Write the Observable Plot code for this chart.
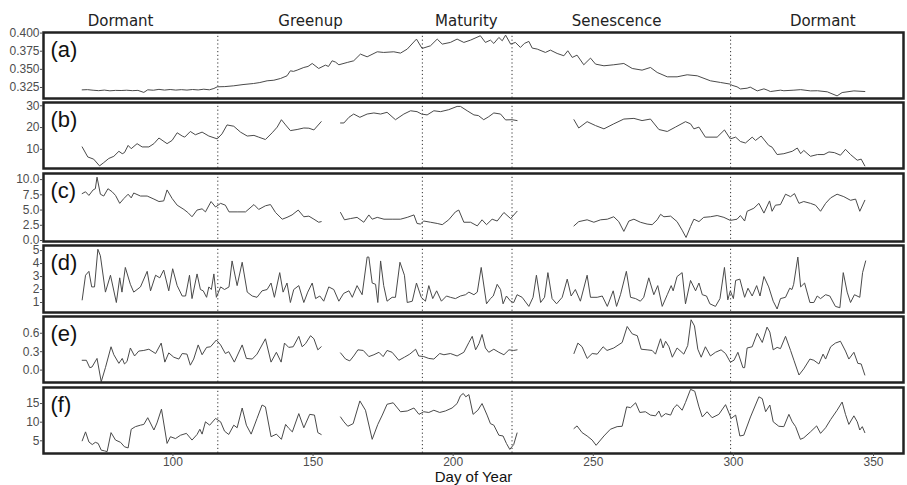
<!DOCTYPE html>
<html><head><meta charset="utf-8">
<script src="https://cdn.jsdelivr.net/npm/d3@7"></script>
<script src="https://cdn.jsdelivr.net/npm/@observablehq/plot@0.6"></script>
<style>
html,body{margin:0;padding:0;background:#fff;}
#chart{position:relative;width:907px;height:485px;overflow:hidden;background:#fff;}
#chart svg{position:absolute;left:0;}
</style></head><body><div id="chart"></div>
<script>
// ---- phases & ticks ----
const phaseLabels = ["Dormant", "Greenup", "Maturity", "Senescence", "Dormant"];
const phaseCenters = [81.3, 149.1, 204.7, 258.3, 331.9];
const phaseBreaks = [116, 189, 221, 299];
const panelLabels = ["(a)", "(b)", "(c)", "(d)", "(e)", "(f)"];
const xTicks = [100, 150, 200, 250, 300, 350];
const xLabel = "Day of Year";

// ---- panel (a) ----
const aDay = [67.6,69.5,71.5,73.5,75.5,77.5,79.5,81.5,83.5,85.5,87.5,89.6,91,93,95,97,99,101,103,105,107,109,111,113,114.6,115.8,118.5,121.7,125,128.8,131,133.6,136,138.4,140.7,141.9,143,144.3,146.7,148.2,149.7,152,154.4,155.5,156.8,158,159.2,162.2,164.5,166.9,169.3,172.9,175.2,178.8,181.2,183.6,186.9,188.9,191.9,194.3,196.1,199,201.4,203.8,206.2,209.7,211.5,213.3,214.5,216.3,217.5,218.7,220.5,222.2,224,225.4,227,228.2,230,232.9,234.7,237.1,239.5,240.9,242.5,244.2,246.6,249,250.8,253.8,257.3,260.9,263.9,267.4,270.4,272.8,276.4,279.9,283.5,287.1,291.8,295.4,298.9,299.5,301.3,302.5,304.9,306,308.5,310.9,312,313.2,316.8,318,321.6,324,327.5,330,333.5,337,338.8,343,346.9];
const aVal = [0.3217,0.3220,0.3212,0.3206,0.3214,0.3204,0.3210,0.3208,0.3212,0.3206,0.3210,0.3182,0.3218,0.3212,0.3224,0.3214,0.3222,0.3214,0.3220,0.3214,0.3222,0.3216,0.3226,0.3218,0.3236,0.3259,0.3262,0.3273,0.3290,0.3305,0.3318,0.3342,0.3350,0.3374,0.3411,0.3480,0.3472,0.3489,0.3526,0.3540,0.3581,0.3512,0.3558,0.3540,0.3618,0.3600,0.3563,0.3595,0.3618,0.3710,0.3673,0.3742,0.3733,0.3742,0.3724,0.3779,0.3917,0.3788,0.3825,0.3917,0.3848,0.3871,0.3917,0.3871,0.3903,0.3963,0.3871,0.3903,0.3857,0.3940,0.3894,0.3972,0.3848,0.3871,0.3802,0.3857,0.3885,0.3793,0.3779,0.3733,0.3765,0.3719,0.3687,0.3756,0.3664,0.3696,0.3563,0.3655,0.3572,0.3549,0.3563,0.3581,0.3512,0.3489,0.3526,0.3457,0.3397,0.3397,0.3425,0.3411,0.3342,0.3319,0.3296,0.3280,0.3259,0.3230,0.3240,0.3255,0.3203,0.3231,0.3215,0.3194,0.3213,0.3205,0.3213,0.3220,0.3203,0.3205,0.3190,0.3134,0.3180,0.3203,0.3194];

// ---- panel (b) ----
const bDay = [67.6,69.6,71.7,73.8,75.3,77.1,78.9,80.7,81.9,82.7,84,85.1,87.2,89,91.4,93.2,95,97.9,99.7,101.5,103.3,104.2,106.2,108,110.4,112.8,115.8,117.5,119.3,121.7,124.1,126.5,128.9,130.6,133,135.4,137.2,138.7,140.2,141.9,144.3,146.7,148.5,150.3,152.9,156,159.8,161,162.8,164.5,166.7,169.3,171.7,174.1,176.4,179.4,182.4,184.8,187.1,188.7,190.7,193.1,195.5,198.4,201.4,202.6,205,207.4,209,210.9,212.7,214.5,216.9,218.7,221,222.8,232,243.1,244.8,247.8,250.8,253.8,257.3,260.9,264.5,267.4,270.4,273.4,276.4,279.3,282.9,284.7,285.9,287.7,290,294.2,296.8,298.9,300.8,302.5,304.3,306.7,307.9,309.9,312.6,313.8,315.6,318,321,322.8,324,325.1,327.5,330,332.3,334.1,336,338.2,340,341.8,344.2,345.6,346.9];
const bVal = [11.1,6.5,5.5,2.4,3.9,5.8,6.8,9.1,8.0,8.5,11.8,10.3,12.6,11.1,11.1,12.6,15.2,12.6,14.1,17.6,16.1,15.6,18.2,16.7,17.9,16.1,14.8,17.1,21.2,20.6,17.9,16.1,16.4,15.6,14.5,17.6,20.2,23.6,21.2,18.6,19.1,19.8,19.7,18.9,22.7,null,22.1,22.1,24.7,26.2,24.7,26.2,26.7,26.2,27.0,23.6,26.2,27.7,27.3,26.2,25.8,27.7,27.3,28.2,29.7,29.7,27.7,25.8,25.5,23.6,25.0,26.7,26.2,23.5,23.6,23.2,null,23.6,19.8,22.7,20.9,19.4,21.7,23.9,24.2,23.2,23.9,19.1,18.2,20.2,22.7,21.7,19.4,20.2,15.6,15.6,18.9,14.8,15.6,13.6,12.9,15.6,14.1,16.1,11.8,11.0,7.6,8.0,9.1,10.6,8.0,9.5,6.8,7.6,7.6,8.8,8.5,7.3,10.0,7.6,5.0,5.5,2.4];

// ---- panel (c) ----
const cDay = [67.6,68.8,70,71.5,72.3,72.9,74.1,75.3,76.8,78.3,79.5,81,82.5,84,85.1,86,88.4,90.8,93.2,95,96.7,97.9,99.7,101.5,103.9,105.3,106.8,108.6,110.4,111.6,113.6,115.2,117,118.7,120,122.9,125.9,128.9,130.6,133,134.8,136.6,139,140.7,142.5,144.7,146.7,148.5,150.3,152,152.9,156,159.8,161.2,163.3,165.7,168.1,169.9,171.1,172.9,175.3,178.2,181.2,183.6,186,187.1,188.3,189.5,191.9,194.3,196.1,198.4,200.8,202,203.8,206.2,208.6,210.3,211.9,213.9,215.7,218.1,220.5,222.8,232,243.1,244.8,247.8,250.2,252.6,255,257.3,259.1,260.9,262.7,264.5,266.8,269.2,271,272.8,274,275.2,277.6,279.9,281.7,283.1,284.7,285.9,287.7,289.4,291.8,294.2,296.6,298.9,301.3,302.5,304,304.9,307.3,309.1,310.9,312.9,313.8,315,316.8,318.6,320.4,321.8,323.4,325.1,327.5,329.3,331.1,332.9,334.7,337,339.4,341.8,343.6,345.1,346.9];
const cVal = [7.7,8.0,7.4,8.3,8.5,10.4,7.6,7.3,8.5,8.0,7.4,6.1,6.9,7.6,7.0,7.8,7.3,7.3,6.8,6.4,6.5,8.3,6.9,5.8,5.1,4.6,3.9,5.0,5.2,4.7,6.4,5.5,6.1,5.8,4.7,4.7,4.7,5.9,5.1,5.7,5.9,4.6,3.5,3.8,4.2,5.0,3.9,4.0,3.5,3.0,3.1,null,4.6,3.4,3.6,3.8,3.0,4.2,3.5,3.8,3.5,3.5,3.5,3.8,4.2,2.8,2.7,3.2,3.0,2.8,2.6,3.4,4.7,5.0,3.0,3.0,2.4,3.4,2.6,3.5,3.2,4.6,3.6,4.8,null,2.4,3.1,3.4,3.0,3.4,3.5,3.9,3.1,1.5,3.2,3.5,3.0,2.7,2.6,3.4,4.3,3.9,4.0,3.1,1.7,0.5,2.3,3.5,3.1,3.8,3.9,4.1,3.8,3.3,3.5,4.1,3.2,4.8,5.3,6.1,4.5,6.5,4.8,5.8,5.9,7.6,7.2,7.7,6.1,6.4,6.1,5.8,4.8,6.1,7.0,7.6,7.2,6.6,6.8,4.8,6.6];

// ---- panel (d) ----
const dDay = [67.6,68.8,70,71,72,73.2,74.1,75.9,77.7,79.8,81,81.8,83,84.8,86,88.4,90.8,92,93.8,95.3,96.7,98.5,99.9,101.5,103.3,104.5,105.9,106.8,108.6,109.8,110.8,112,112.8,113.7,114.6,115.5,117,118.4,120,121.1,122.9,124.7,126.5,128.3,130,131.8,133.6,135,136.2,138.1,139.3,140.7,141.9,143.1,144.9,146.7,148.1,149.7,150.9,152.4,153.8,155.6,157.4,159.2,160.9,162.8,164,165.7,167.5,169.3,169.9,171.1,172.3,173.1,174.1,175.2,176.4,178.2,179.4,181,182.6,183.6,185.4,186.9,188.6,190.1,191.3,192.7,194.1,195.8,197.6,199,200.8,202.6,204.4,205.6,207.4,208.6,210,211.9,213.3,214.3,215.7,216.9,217.8,219,220.5,221.6,222.8,224.6,227,228.5,229.7,231.2,232.6,233.8,235.3,236.9,238.9,240.7,242.1,243.6,245.4,247.8,249,251.4,253.2,255,257.1,258.3,259.7,261.8,263.3,265.1,266.8,268,269.8,271.6,273,274.6,276.4,277.8,278.5,279.9,281.7,282.9,284.7,286.5,287.7,288.9,290.4,291.6,293.6,295.2,296.8,298,298.9,300,300.8,302.3,304,305.2,306.7,308.3,309.5,310.9,312.6,314.2,315.6,316.8,318.6,320.1,320.9,321.5,323,324,325.4,327.3,328.7,329.9,331.1,332.9,334.4,336.4,338,339.2,340.6,341.8,343.2,345.1,346.1,347.2];
const dVal = [1.2,3.1,3.4,2.2,2.2,5.1,4.6,1.8,3.1,1.0,2.9,1.8,3.7,2.4,1.8,2.2,3.4,1.9,3.1,2.9,3.5,1.9,3.6,2.3,1.5,1.5,3.1,1.3,3.2,2.0,1.9,1.4,2.2,2.0,3.2,1.4,2.2,2.0,2.2,4.2,2.3,4.1,1.8,1.5,1.4,1.9,2.0,2.5,1.4,3.3,1.8,2.5,1.0,2.0,2.3,1.0,1.8,2.5,1.3,1.5,1.1,2.2,2.0,1.1,1.7,1.9,1.4,2.3,1.6,4.5,4.5,2.5,2.4,1.0,4.2,2.3,1.1,1.4,1.4,4.1,3.1,1.0,1.1,2.5,1.4,1.1,2.3,1.3,1.9,1.1,1.5,1.4,1.3,1.5,1.6,1.8,1.6,1.8,3.7,0.9,1.3,1.5,2.4,2.0,0.9,1.5,1.1,1.0,1.6,1.4,0.7,1.4,3.1,1.0,1.4,3.3,1.3,0.9,1.4,2.8,1.5,2.0,1.1,3.1,1.4,1.4,1.5,0.7,1.9,0.7,1.6,3.4,1.4,1.3,1.1,1.4,2.9,1.6,2.3,0.7,1.6,2.3,1.9,3.0,3.3,0.9,2.7,1.9,2.5,1.6,1.5,0.9,0.7,1.3,3.7,1.2,1.9,1.3,2.7,2.8,1.4,2.1,1.5,2.3,1.5,3.0,2.2,1.1,0.5,1.3,1.4,2.1,2.0,2.4,4.5,2.2,2.5,1.0,1.0,1.5,1.3,1.6,1.5,0.7,0.6,3.3,1.8,1.0,1.6,1.4,3.3,4.2];

// ---- panel (e) ----
const eDay = [67.6,69.1,70.3,71.1,72.9,74.4,75.9,77.9,78.9,80.7,81.9,82.7,83.6,84.8,86.3,87.8,89.6,91.4,93.8,95.8,97.1,98.5,100.3,102.1,103.3,105,106.2,107.4,109,110.4,112,113.4,115.5,117,118.7,119.9,121.9,124.7,126.2,128.3,130,133,135,136.9,138.6,139.8,141.3,142.9,144.9,146.1,147.3,149.1,150.3,151.7,152.9,156,159.8,161.6,163.1,164.5,166,167.9,169.9,171.7,173.5,175,176.4,178.2,180.6,182.6,184.5,186.6,187.7,189.5,191.3,193.1,195.2,196.7,199,201.4,203.8,205.6,206.8,208,209.2,210.3,211.5,212.7,214.5,216.3,218.1,219.9,221.6,222.8,232,243.1,244.5,246,247.8,249.6,251.4,253.5,254.9,257.3,260.3,262.1,263.9,265.7,267.1,269.2,271,272.2,274,274.9,275.8,277,278.2,279.9,282.3,283.7,284.9,286.1,287.3,288.5,290,291.8,293.6,295.6,297.2,298.9,300.2,301.6,303.4,304,304.9,306.7,308.5,310.3,312,313,314.2,315.6,316.8,318.6,320.4,321.6,323.4,325.1,327.3,328.7,330.5,332,332.9,334.7,336.4,338.2,340,341.2,343,344.4,345.6,346.9];
const eVal = [0.16,0.16,0.04,0.05,0.19,-0.19,0.04,0.38,0.25,0.11,0.19,0.10,0.14,0.36,0.23,0.31,0.32,0.34,0.27,0.44,0.13,0.28,0.21,0.18,0.27,0.26,0.08,0.18,0.41,0.25,0.37,0.38,0.49,0.41,0.27,0.30,0.13,0.41,0.19,0.18,0.26,0.51,0.13,0.29,0.13,0.44,0.37,0.38,0.55,0.38,0.43,0.56,0.51,0.33,0.38,null,0.28,0.18,0.15,0.23,0.33,0.32,0.22,0.25,0.29,0.22,0.32,0.29,0.16,0.21,0.26,0.34,0.23,0.22,0.19,0.18,0.27,0.25,0.27,0.23,0.29,0.45,0.55,0.33,0.43,0.58,0.36,0.29,0.34,0.29,0.25,0.33,0.32,0.33,null,0.27,0.44,0.38,0.19,0.27,0.26,0.38,0.32,0.36,0.45,0.71,0.59,0.56,0.34,0.33,0.32,0.26,0.51,0.36,0.47,0.38,0.21,0.36,0.26,0.40,0.82,0.72,0.34,0.21,0.38,0.23,0.29,0.33,0.27,0.13,0.16,0.29,0.04,0.04,0.36,0.38,0.60,0.45,0.70,0.62,0.33,0.37,0.35,0.55,0.32,0.16,-0.08,0.02,0.18,0.16,0.10,0.26,0.18,0.38,0.44,0.47,0.31,0.18,0.29,0.11,0.10,-0.08];

// ---- panel (f) ----
const fDay = [67.6,68.8,70,71.2,72.3,73.3,74.4,75.6,76.5,77.9,79.5,81.3,82.7,84,85.1,86.6,88.4,89.6,91,93.2,94.3,95.9,97.9,99.1,100.9,102.7,104.8,106.8,108.6,109.6,110.4,111.6,113.1,115.2,117,118.4,119.9,121.7,122.9,124.7,126.2,127.9,130,131.8,133,135,136.9,138.7,140.2,141.4,142.6,144.9,146.7,148.8,150.5,151.7,152.9,156,159.8,161,162.4,164.3,166.7,168.7,171.1,173.1,174.7,176.4,178.6,181.2,183.6,186,187.8,189.5,191.3,193.1,195.2,197.2,199.6,201.4,202.6,203.6,204.5,205.6,207.1,208.8,210.3,212.1,213.3,214.5,216.3,217.8,219,220.2,221.6,222.8,232,243.1,244.2,246,247.8,249.6,251,253.8,256.1,258.5,260.3,261.9,263.3,265.1,266.6,268.6,270.4,272.2,273.4,274.3,275.8,277.6,278.7,279.9,281.7,282.9,284.7,286.2,287.7,288.9,290.6,292.4,294.8,297.2,299.2,300.8,302.3,303.7,306.1,309.1,310.3,311.5,313,314.2,316.2,318,319.8,321,322.2,323.9,325.1,327.5,329.7,331.1,332.9,334.7,337,338.8,340,341.2,343,344.2,345.1,346,346.9];
const fVal = [5.0,7.4,4.7,4.0,4.6,4.3,2.5,2.3,2.1,7.2,5.2,4.6,3.4,3.1,8.1,8.8,9.2,9.4,11.2,7.9,9.8,13.5,4.3,6.1,5.6,6.5,7.0,5.2,6.7,8.1,6.8,10.1,9.2,11.0,10.1,7.6,6.7,9.2,8.5,13.8,9.2,6.8,11.0,14.6,14.1,6.1,6.8,5.4,9.4,8.3,7.4,12.3,8.5,12.1,11.9,7.2,6.7,null,11.4,10.1,8.9,9.6,15.7,13.2,5.4,9.4,11.9,14.8,15.2,12.8,13.0,13.8,12.1,12.8,12.6,13.2,12.6,13.0,13.8,15.0,17.1,17.7,16.8,17.4,12.1,13.2,15.0,11.9,9.6,9.2,6.5,6.3,4.3,2.7,4.0,7.1,null,8.3,9.0,7.2,6.3,5.2,3.8,6.3,8.1,8.8,8.9,14.1,13.9,15.2,12.6,12.8,11.9,11.7,13.0,11.4,12.3,11.9,13.8,14.7,13.2,15.3,18.8,18.3,14.1,11.4,12.8,11.2,12.1,14.7,11.0,11.9,6.3,6.5,11.4,16.8,16.3,12.8,14.6,10.1,8.9,8.8,12.1,10.1,8.8,5.4,5.8,7.4,9.0,7.0,8.5,10.7,13.2,15.4,12.1,9.4,11.7,10.1,7.9,8.8,7.2];

// ---- panel setup (scale domains & tick labels) ----
const xDomain = [53.8, 360.7];
const panels = [
  {days: aDay, vals: aVal, label: panelLabels[0], domain: [0.3098, 0.4008], ticks: [0.325, 0.35, 0.375, 0.4], fmt: ".3f", top: 32, inner: 66},
  {days: bDay, vals: bVal, label: panelLabels[1], domain: [1.2, 31.5], ticks: [10, 20, 30], fmt: "d", top: 102, inner: 66},
  {days: cDay, vals: cVal, label: panelLabels[2], domain: [-0.16, 11.0], ticks: [0, 2.5, 5, 7.5, 10], fmt: ".1f", top: 173, inner: 68},
  {days: dDay, vals: dVal, label: panelLabels[3], domain: [0.23, 5.39], ticks: [1, 2, 3, 4, 5], fmt: "d", top: 245, inner: 67},
  {days: eDay, vals: eVal, label: panelLabels[4], domain: [-0.202, 0.873], ticks: [0, 0.3, 0.6], fmt: ".1f", top: 316, inner: 66},
  {days: fDay, vals: fVal, label: panelLabels[5], domain: [1.6, 19.3], ticks: [5, 10, 15], fmt: "d", top: 387, inner: 66}
];

const chart = document.getElementById("chart");
panels.forEach((p, i) => {
  const first = i === 0, last = i === panels.length - 1;
  const mt = first ? 32 : 3;
  const mb = last ? 32 : 3;
  const data = p.days.map((d, k) => ({day: d, v: p.vals[k]}));
  const marks = [
    Plot.ruleX(phaseBreaks, {stroke: "#333", strokeWidth: 1, strokeDasharray: "1.2,2.6"}),
    Plot.lineY(data, {x: "day", y: "v", stroke: "#4a4a4a", strokeWidth: 1}),
    Plot.frame({stroke: "#222", strokeWidth: 2.5}),
    Plot.text([p.label], {frameAnchor: "top-left", dx: 7, dy: 17, lineAnchor: "middle", fontSize: 22, fill: "#111", fontFamily: "Liberation Sans, Arial, sans-serif"}),
    Plot.axisY({ticks: p.ticks, tickFormat: d3.format(p.fmt), tickSize: 3, tickPadding: 1, label: null, fontSize: 12, fill: "#4d4d4d", stroke: "#4d4d4d"})
  ];
  if (first) {
    marks.push(Plot.text(phaseLabels, {x: (d, k) => phaseCenters[k], frameAnchor: "top", dy: -11, lineAnchor: "middle", fontSize: 15, fill: "#222", fontFamily: "DejaVu Sans, sans-serif"}));
  }
  if (last) {
    marks.push(Plot.axisX({ticks: xTicks, tickSize: 3, tickPadding: 1, label: null, fontSize: 12, fill: "#4d4d4d", stroke: "#4d4d4d"}));
    marks.push(Plot.text([xLabel], {frameAnchor: "bottom", dy: 24, lineAnchor: "middle", fontSize: 15, fill: "#111", fontFamily: "Liberation Sans, Arial, sans-serif"}));
  }
  const svg = Plot.plot({
    width: 907,
    height: mt + p.inner + mb,
    marginTop: mt, marginBottom: mb, marginLeft: 43, marginRight: 4,
    style: {background: "transparent", overflow: "visible", fontFamily: "Liberation Sans, Arial, sans-serif", fontSize: "12px", color: "#4d4d4d"},
    x: last ? {domain: xDomain} : {domain: xDomain, axis: null},
    y: {domain: p.domain},
    marks
  });
  svg.style.top = (p.top - mt) + "px";
  chart.appendChild(svg);
});
</script></body></html>
